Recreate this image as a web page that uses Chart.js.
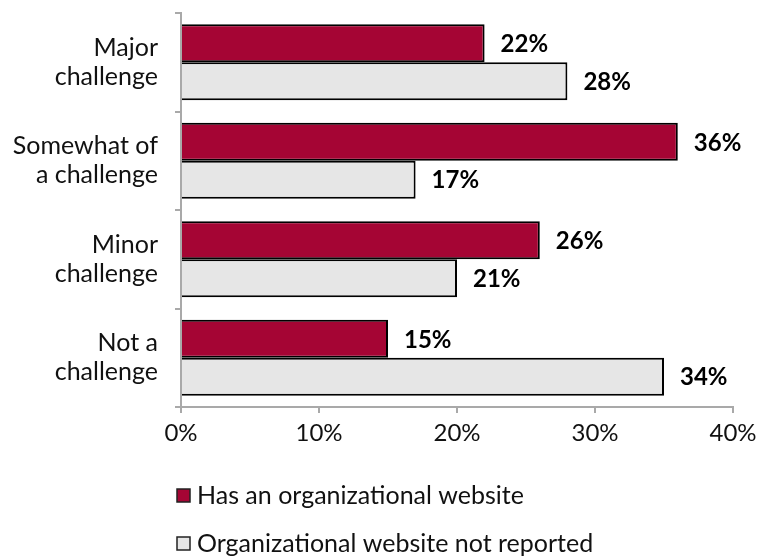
<!DOCTYPE html>
<html>
<head>
<meta charset="utf-8">
<script src="https://cdn.jsdelivr.net/npm/chart.js@4/dist/chart.umd.min.js"></script>
<style>
  html, body { margin: 0; padding: 0; background: #fff; }
  #wrap { width: 767px; height: 556px; position: relative; }
</style>
</head>
<body>
<div id="wrap"><canvas id="chart" width="767" height="556"></canvas></div>
<script>
const categories = [["Major", "challenge"], ["Somewhat of", "a challenge"], ["Minor", "challenge"], ["Not a", "challenge"]];
const seriesNames = ["Has an organizational website", "Organizational website not reported"];
const hasWebsite = [22, 36, 26, 15];
const notReported = [28, 17, 20, 35];
// printed labels as they appear in the picture
const hasWebsiteLabels = ["22%", "36%", "26%", "15%"];
const notReportedLabels = ["28%", "17%", "21%", "34%"];
const xMin = 0, xMax = 40, xStep = 10;

const FONT = "Lato, 'Open Sans', sans-serif";
const AXIS_GREY = "#a9a9a9";

const valueLabels = {
  id: "valueLabels",
  afterDatasetsDraw(chart) {
    const ctx = chart.ctx;
    const texts = [hasWebsiteLabels, notReportedLabels];
    ctx.save();
    ctx.font = "bold 24px " + FONT;
    ctx.fillStyle = "#000";
    ctx.textAlign = "left";
    ctx.textBaseline = "middle";
    chart.data.datasets.forEach((ds, i) => {
      chart.getDatasetMeta(i).data.forEach((bar, j) => {
        ctx.fillText(texts[i][j], bar.x + 16, bar.y + 1);
      });
    });
    ctx.restore();
  }
};

const stackedLegend = {
  id: "stackedLegend",
  afterDraw(chart) {
    const ctx = chart.ctx;
    const left = chart.chartArea.left - 4;
    const rows = [chart.chartArea.bottom + 89, chart.chartArea.bottom + 137];
    ctx.save();
    ctx.font = "25px " + FONT;
    ctx.textBaseline = "middle";
    chart.data.datasets.forEach((ds, i) => {
      const y = rows[i];
      ctx.fillStyle = ds.backgroundColor;
      ctx.fillRect(left, y - 7, 13, 13);
      ctx.strokeStyle = "#222";
      ctx.lineWidth = 1.5;
      ctx.strokeRect(left, y - 7, 13, 13);
      ctx.fillStyle = "#111";
      ctx.fillText(ds.label, left + 20, y);
    });
    ctx.restore();
  }
};

new Chart(document.getElementById("chart").getContext("2d"), {
  type: "bar",
  data: {
    labels: categories,
    datasets: [
      { label: seriesNames[0], data: hasWebsite, backgroundColor: "#a50534", borderColor: "#000", borderWidth: 2 },
      { label: seriesNames[1], data: notReported, backgroundColor: "#e6e6e6", borderColor: "#000", borderWidth: 2 }
    ]
  },
  options: {
    indexAxis: "y",
    responsive: false,
    animation: false,
    categoryPercentage: 0.77,
    barPercentage: 1,
    layout: { padding: { top: 13, left: 0, right: 34, bottom: 99 } },
    plugins: { legend: { display: false }, tooltip: { enabled: false } },
    scales: {
      x: {
        min: xMin, max: xMax,
        afterFit: s => { s.height = 50; },
        ticks: { stepSize: xStep, callback: v => v + "%", color: "#111", padding: 6, font: { family: FONT, size: 24 } },
        grid: { drawOnChartArea: false, drawTicks: true, tickLength: 6, color: AXIS_GREY, lineWidth: 2 },
        border: { color: AXIS_GREY, width: 2 }
      },
      y: {
        afterFit: s => { s.width = 181; s.paddingTop = 0; s.paddingBottom = 0; },
        ticks: { color: "#111", padding: 17, font: { family: FONT, size: 25, lineHeight: 1.16 } },
        grid: { drawOnChartArea: false, drawTicks: true, tickLength: 6, color: AXIS_GREY, lineWidth: 2 },
        border: { color: AXIS_GREY, width: 2 }
      }
    }
  },
  plugins: [valueLabels, stackedLegend]
});
</script>
</body>
</html>
